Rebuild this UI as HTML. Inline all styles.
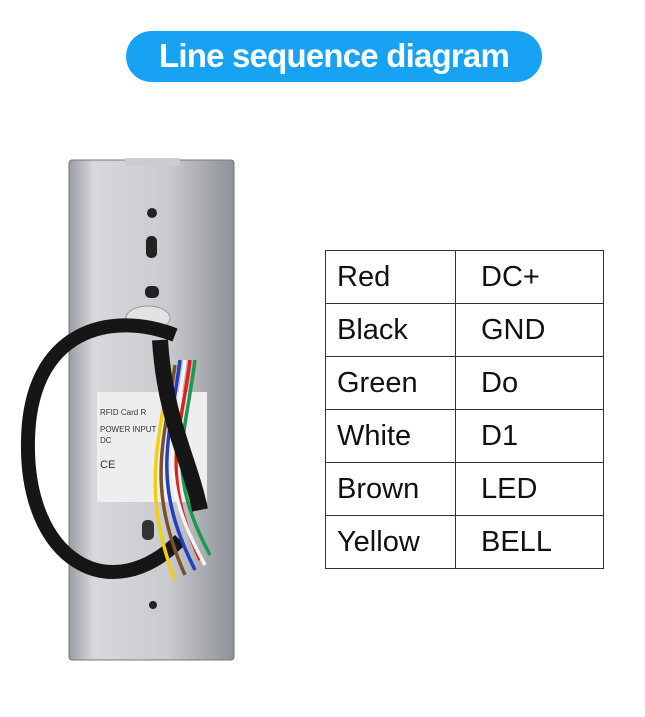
<!DOCTYPE html>
<html><head><meta charset="utf-8"><style>
html,body{margin:0;padding:0;background:#fff;width:645px;height:717px;overflow:hidden;position:relative;font-family:"Liberation Sans",sans-serif}
.pill{position:absolute;left:126px;top:31px;width:416px;height:51px;border-radius:26px;background:#18a2f4;color:#fff;font-size:33px;font-weight:bold;text-align:center;line-height:50px;letter-spacing:-0.8px}
table{position:absolute;left:325px;top:250px;border-collapse:collapse;font-size:29px;color:#111}
td{border:1.5px solid #333;height:53px;padding:0;box-sizing:border-box}
td.a{width:130px;padding-left:11px}
td.b{width:148px;padding-left:25px}
</style></head><body>
<div class="pill">Line sequence diagram</div>
<svg style="position:absolute;left:0;top:0" width="320" height="717">
<defs><linearGradient id="g" x1="0" x2="1"><stop offset="0" stop-color="#9a9da2"/><stop offset="0.15" stop-color="#d6d8dc"/><stop offset="0.6" stop-color="#c9cbcf"/><stop offset="1" stop-color="#8e9196"/></linearGradient></defs>
<rect x="69" y="160" width="165" height="500" rx="3" fill="url(#g)" stroke="#777"/>
<rect x="125" y="158" width="55" height="8" fill="#ccc"/>
<ellipse cx="152" cy="213" rx="5" ry="5" fill="#222"/>
<rect x="146" y="236" width="11" height="22" rx="5" fill="#222"/>
<rect x="145" y="286" width="14" height="12" rx="5" fill="#222"/>
<ellipse cx="148" cy="318" rx="22" ry="12" fill="#e2e2e2" stroke="#999"/>
<rect x="97" y="392" width="110" height="110" fill="#eee"/>
<text x="100" y="415" font-size="8" fill="#333">RFID Card R</text>
<text x="100" y="432" font-size="8" fill="#333">POWER INPUT</text>
<text x="100" y="443" font-size="8" fill="#333">DC</text>
<text x="100" y="468" font-size="11" fill="#333">CE</text>
<ellipse cx="153" cy="605" rx="4" ry="4" fill="#222"/>
<rect x="142" y="520" width="12" height="20" rx="5" fill="#333"/>
<path d="M175 335 C110 310 30 330 28 440 C25 560 110 610 180 540" fill="none" stroke="#161616" stroke-width="14"/>
<g fill="none" stroke-width="3.5">
<path d="M190 360 C180 440 160 470 200 560" stroke="#e02020"/>
<path d="M195 360 C185 440 165 470 210 555" stroke="#1a9a50"/>
<path d="M185 360 C175 440 155 475 205 565" stroke="#f5f5f5"/>
<path d="M180 360 C170 440 150 480 195 570" stroke="#2040c0"/>
<path d="M175 365 C165 440 145 485 185 575" stroke="#7a5030"/>
<path d="M170 365 C160 440 140 490 175 580" stroke="#f0d010"/>
</g>
<path d="M160 340 C165 420 190 460 200 510" fill="none" stroke="#161616" stroke-width="16"/>
</svg>
<table>
<tr><td class="a">Red</td><td class="b">DC+</td></tr>
<tr><td class="a">Black</td><td class="b">GND</td></tr>
<tr><td class="a">Green</td><td class="b">Do</td></tr>
<tr><td class="a">White</td><td class="b">D1</td></tr>
<tr><td class="a">Brown</td><td class="b">LED</td></tr>
<tr><td class="a">Yellow</td><td class="b">BELL</td></tr>
</table>
</body></html>
